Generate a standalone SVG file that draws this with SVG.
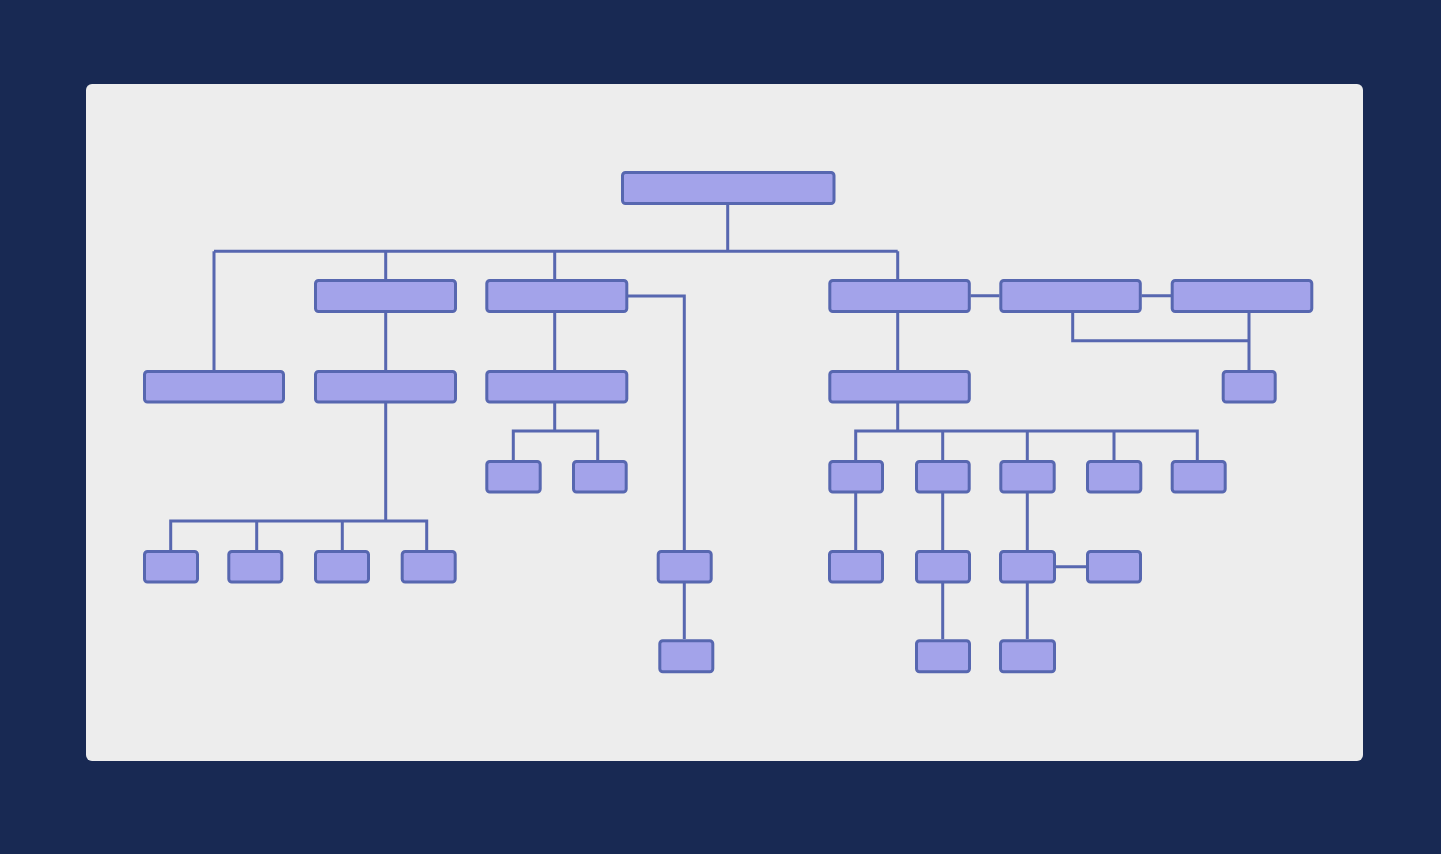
<svg xmlns="http://www.w3.org/2000/svg" width="1441" height="854" viewBox="0 0 1441 854">
  <style>
    .n { fill: #a3a3ea; stroke: #5767b0; stroke-width: 3; }
    .c { fill: none; stroke: #5767b0; stroke-width: 3; stroke-linejoin: miter; }
  </style>
  <rect x="0" y="0" width="1441" height="854" fill="#182953"/>
  <rect x="86" y="84" width="1277" height="677" rx="6" fill="#ededed"/>
  <g id="connectors" class="c">
    <path d="M727.7 205 V251.3 M214 251.3 H897.7 M214 251.3 V370 M385.7 251.3 V279 M554.7 251.3 V279 M897.7 251.3 V279"/>
    <path d="M385.7 313 V370 M385.7 403 V521 M170.7 550 V521 H426.7 V550 M256.7 521 V550 M342.3 521 V550"/>
    <path d="M628 296 H684.3 V550 M684.3 583 V639"/>
    <path d="M554.7 313 V370 M554.7 403 V431 M513.3 460 V431 H597.7 V460"/>
    <path d="M897.7 313 V370 M970.5 295.7 H999.5 M1141.5 295.7 H1171"/>
    <path d="M1072.7 313 V340.7 H1249 M1249 313 V370"/>
    <path d="M897.7 403 V431 M855.7 460 V431 H1197.3 V460 M942.7 431 V460 M1027.3 431 V460 M1114 431 V460"/>
    <path d="M855.7 493 V550 M942.7 493 V550 M1027.3 493 V550 M942.7 583 V639 M1027.3 583 V639 M1055.5 566.7 H1086.5"/>
  </g>
  <g id="root"><rect class="n" x="622.5" y="172.5" width="211.5" height="31" rx="3"/></g>
  <g id="n1a"><rect class="n" x="315.5" y="280.5" width="140" height="31" rx="3"/></g>
  <g id="n1b"><rect class="n" x="486.8" y="280.5" width="140" height="31" rx="3"/></g>
  <g id="n1c"><rect class="n" x="829.8" y="280.5" width="139.5" height="31" rx="3"/></g>
  <g id="n1d"><rect class="n" x="1000.8" y="280.5" width="139.5" height="31" rx="3"/></g>
  <g id="n1e"><rect class="n" x="1172.2" y="280.5" width="139.6" height="31" rx="3"/></g>
  <g id="n2a"><rect class="n" x="144.5" y="371.5" width="139" height="30.5" rx="3"/></g>
  <g id="n2b"><rect class="n" x="315.5" y="371.5" width="140" height="30.5" rx="3"/></g>
  <g id="n2c"><rect class="n" x="486.8" y="371.5" width="140" height="30.5" rx="3"/></g>
  <g id="n2d"><rect class="n" x="829.8" y="371.5" width="139.5" height="30.5" rx="3"/></g>
  <g id="n2e"><rect class="n" x="1223.2" y="371.5" width="52" height="30.5" rx="3"/></g>
  <g id="n3a"><rect class="n" x="486.8" y="461.5" width="53.4" height="30.5" rx="3"/></g>
  <g id="n3b"><rect class="n" x="573.5" y="461.5" width="52.7" height="30.5" rx="3"/></g>
  <g id="n3c"><rect class="n" x="829.8" y="461.5" width="52.7" height="30.5" rx="3"/></g>
  <g id="n3d"><rect class="n" x="916.5" y="461.5" width="52.7" height="30.5" rx="3"/></g>
  <g id="n3e"><rect class="n" x="1000.8" y="461.5" width="53.4" height="30.5" rx="3"/></g>
  <g id="n3f"><rect class="n" x="1087.5" y="461.5" width="53.3" height="30.5" rx="3"/></g>
  <g id="n3g"><rect class="n" x="1172.2" y="461.5" width="53" height="30.5" rx="3"/></g>
  <g id="n4a"><rect class="n" x="144.5" y="551.5" width="53" height="30.5" rx="3"/></g>
  <g id="n4b"><rect class="n" x="228.8" y="551.5" width="53" height="30.5" rx="3"/></g>
  <g id="n4c"><rect class="n" x="315.5" y="551.5" width="53" height="30.5" rx="3"/></g>
  <g id="n4d"><rect class="n" x="402.2" y="551.5" width="53" height="30.5" rx="3"/></g>
  <g id="n4e"><rect class="n" x="658.2" y="551.5" width="53" height="30.5" rx="3"/></g>
  <g id="n4f"><rect class="n" x="829.5" y="551.5" width="53" height="30.5" rx="3"/></g>
  <g id="n4g"><rect class="n" x="916.5" y="551.5" width="53" height="30.5" rx="3"/></g>
  <g id="n4h"><rect class="n" x="1000.5" y="551.5" width="54" height="30.5" rx="3"/></g>
  <g id="n4i"><rect class="n" x="1087.5" y="551.5" width="53" height="30.5" rx="3"/></g>
  <g id="n5a"><rect class="n" x="659.8" y="640.8" width="53" height="31" rx="3"/></g>
  <g id="n5b"><rect class="n" x="916.5" y="640.8" width="53" height="31" rx="3"/></g>
  <g id="n5c"><rect class="n" x="1000.5" y="640.8" width="54" height="31" rx="3"/></g>
</svg>
